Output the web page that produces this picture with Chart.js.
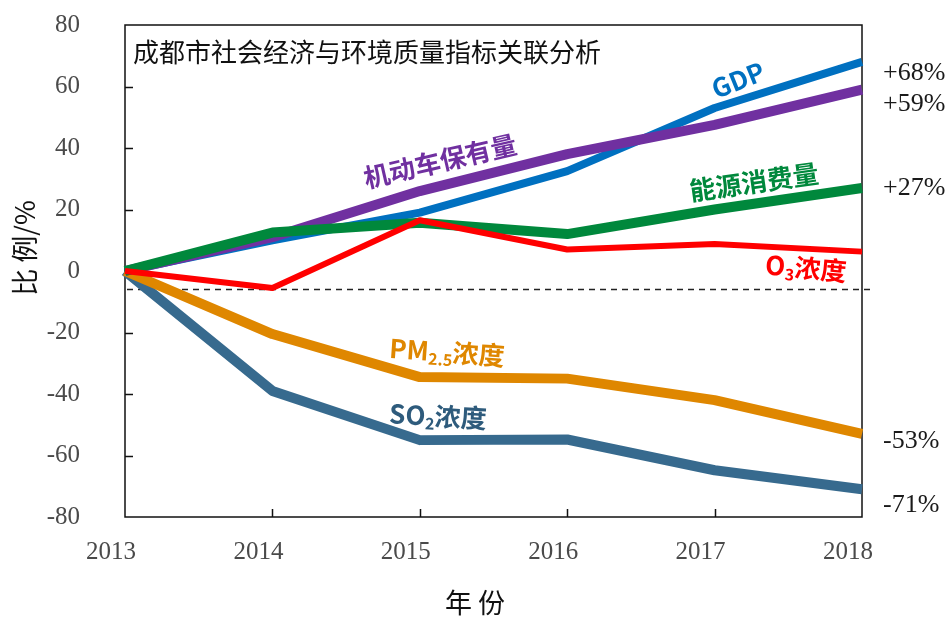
<!DOCTYPE html>
<html>
<head>
<meta charset="utf-8">
<script src="https://cdn.jsdelivr.net/npm/chart.js@4"></script>
<style>
  html, body { margin: 0; padding: 0; background: #fff; }
  #wrap { width: 950px; height: 617px; }
</style>
</head>
<body>
<div id="wrap"><canvas id="chart"></canvas></div>
<script>
// 2013 = 0, change in percent
const years = ['2013', '2014', '2015', '2016', '2017', '2018'];
const gdp = [0, 10, 19, 32.5, 53, 68];
const vehicles = [0, 11, 26, 38, 47.5, 59];
const energy = [0, 12.5, 15.7, 12, 20, 27];
const o3 = [0, -5.5, 16.5, 7, 8.8, 6.3];
const pm25 = [0, -20.5, -34.5, -35, -42, -53];
const so2 = [0, -39, -55, -54.8, -64.8, -71];
const refLevel = -6;

const yMin = -80, yMax = 80, yStep = 20;

const C_GDP = '#0070C0', C_VEH = '#7030A0', C_EN = '#00883C',
      C_O3 = '#FF0000', C_PM = '#DF8700', C_SO2 = '#376A8E';

const SERIF = '"Liberation Serif", "Times New Roman", serif';
const CJK = '"Noto Sans CJK SC", "Noto Sans", sans-serif';
const TICK_COLOR = '#4a4a4a';

// in-plot series names: pixel anchor, rotation in degrees
const tags = [
  { parts: [['GDP']], x: 738, y: 80, rot: -22, color: C_GDP },
  { parts: [['机动车保有量']], x: 440, y: 161, rot: -13, color: C_VEH },
  { parts: [['能源消费量']], x: 754, y: 182, rot: -8, color: C_EN },
  { parts: [['O'], ['3', 'sub'], ['浓度']], x: 806, y: 268, rot: 5, color: C_O3 },
  { parts: [['PM'], ['2.5', 'sub'], ['浓度']], x: 447, y: 352, rot: 4, color: C_PM },
  { parts: [['SO'], ['2', 'sub'], ['浓度']], x: 438, y: 416, rot: 3, color: '#2E5B7C' }
];

// end-of-line percentage labels, vertical nudge in px
const endLabels = [
  { data: gdp, dy: 11 },
  { data: vehicles, dy: 15 },
  { data: energy, dy: 0 },
  { data: pm25, dy: 7 },
  { data: so2, dy: 16 }
];

function drawParts(ctx, parts, size) {
  const segs = parts.map(([t, kind]) => {
    const f = kind === 'sub' ? 'bold ' + Math.round(size * 0.62) + 'px ' + CJK
                             : 'bold ' + size + 'px ' + CJK;
    ctx.font = f;
    return { t, f, w: ctx.measureText(t).width, dy: kind === 'sub' ? size * 0.3 : 0 };
  });
  const total = segs.reduce((s, p) => s + p.w, 0);
  let x = -total / 2;
  segs.forEach(s => {
    ctx.font = s.f;
    ctx.fillText(s.t, x, s.dy);
    x += s.w;
  });
}

const decor = {
  id: 'decor',
  beforeDatasetsDraw(chart) {
    const { ctx, chartArea: a, scales: { x, y } } = chart;
    ctx.save();
    // frame
    ctx.strokeStyle = '#111';
    ctx.lineWidth = 1.5;
    ctx.strokeRect(a.left, a.top, a.right - a.left, a.bottom - a.top);
    // inward ticks
    ctx.beginPath();
    y.ticks.forEach(t => {
      if (t.value === yMin || t.value === yMax) return;
      const py = Math.round(y.getPixelForValue(t.value)) + 0.5;
      ctx.moveTo(a.left, py);
      ctx.lineTo(a.left + 8, py);
    });
    x.ticks.forEach((t, i) => {
      if (i === 0 || i === x.ticks.length - 1) return;
      const px = Math.round(x.getPixelForValue(i)) + 0.5;
      ctx.moveTo(px, a.bottom);
      ctx.lineTo(px, a.bottom - 8);
    });
    ctx.stroke();
    // y tick labels (drawn here so they don't push the plot area down)
    ctx.fillStyle = TICK_COLOR;
    ctx.font = '25px ' + SERIF;
    ctx.textAlign = 'right';
    ctx.textBaseline = 'middle';
    y.ticks.forEach(t => {
      ctx.fillText(String(t.value), a.left - 45, y.getPixelForValue(t.value));
    });
    // dashed reference line
    const ry = Math.round(y.getPixelForValue(refLevel)) + 0.5;
    ctx.setLineDash([6, 5]);
    ctx.lineWidth = 1.3;
    ctx.strokeStyle = '#222';
    ctx.beginPath();
    ctx.moveTo(a.left + 2, ry);
    ctx.lineTo(a.right + 11, ry);
    ctx.stroke();
    ctx.restore();
  },
  afterDraw(chart) {
    const { ctx, chartArea: a, scales: { y } } = chart;
    ctx.save();
    // title inside the frame
    ctx.fillStyle = '#111';
    ctx.font = '26px ' + CJK;
    ctx.textAlign = 'left';
    ctx.textBaseline = 'middle';
    ctx.fillText('成都市社会经济与环境质量指标关联分析', a.left + 8, 52);

    // axis titles
    ctx.font = '27px ' + CJK;
    ctx.textAlign = 'center';
    ctx.fillText('年 份', 475, 603);
    ctx.save();
    ctx.translate(25, 248);
    ctx.rotate(-Math.PI / 2);
    ctx.fillText('比 例/%', 0, 0);
    ctx.restore();

    // series names
    ctx.textAlign = 'left';
    tags.forEach(tg => {
      ctx.save();
      ctx.translate(tg.x, tg.y);
      ctx.rotate(tg.rot * Math.PI / 180);
      ctx.fillStyle = tg.color;
      drawParts(ctx, tg.parts, 26);
      ctx.restore();
    });

    // end values
    ctx.fillStyle = '#1a1a1a';
    ctx.font = '26px ' + SERIF;
    ctx.textAlign = 'left';
    const last = years.length - 1;
    endLabels.forEach(l => {
      const v = l.data[last];
      const txt = (v > 0 ? '+' : '') + Math.round(v) + '%';
      ctx.fillText(txt, a.right + 21, y.getPixelForValue(v) + l.dy);
    });
    ctx.restore();
  }
};

function line(data, color, width) {
  return {
    data,
    borderColor: color,
    backgroundColor: color,
    borderWidth: width,
    borderJoinStyle: 'round',
    borderCapStyle: 'butt',
    pointRadius: 0,
    tension: 0,
    fill: false
  };
}

new Chart(document.getElementById('chart'), {
  type: 'line',
  data: {
    labels: years,
    // first entry is painted last (on top)
    datasets: [
      line(o3, C_O3, 6),
      line(energy, C_EN, 10),
      line(vehicles, C_VEH, 10),
      line(gdp, C_GDP, 8),
      line(pm25, C_PM, 10),
      line(so2, C_SO2, 10)
    ]
  },
  options: {
    responsive: true,
    maintainAspectRatio: false,
    animation: false,
    layout: { padding: { top: 25, right: 88, left: 0, bottom: 0 } },
    plugins: { legend: { display: false }, tooltip: { enabled: false } },
    scales: {
      x: {
        offset: false,
        grid: { display: false, drawTicks: false },
        border: { display: false },
        ticks: {
          color: TICK_COLOR,
          font: { family: SERIF, size: 25 },
          padding: 20,
          labelOffset: -14,
          maxRotation: 0,
          autoSkip: false
        },
        afterFit: s => { s.height = 100; }
      },
      y: {
        min: yMin,
        max: yMax,
        grid: { display: false, drawTicks: false },
        border: { display: false },
        ticks: { stepSize: yStep, display: false },
        afterFit: s => { s.width = 125; }
      }
    }
  },
  plugins: [decor]
});
</script>
</body>
</html>
